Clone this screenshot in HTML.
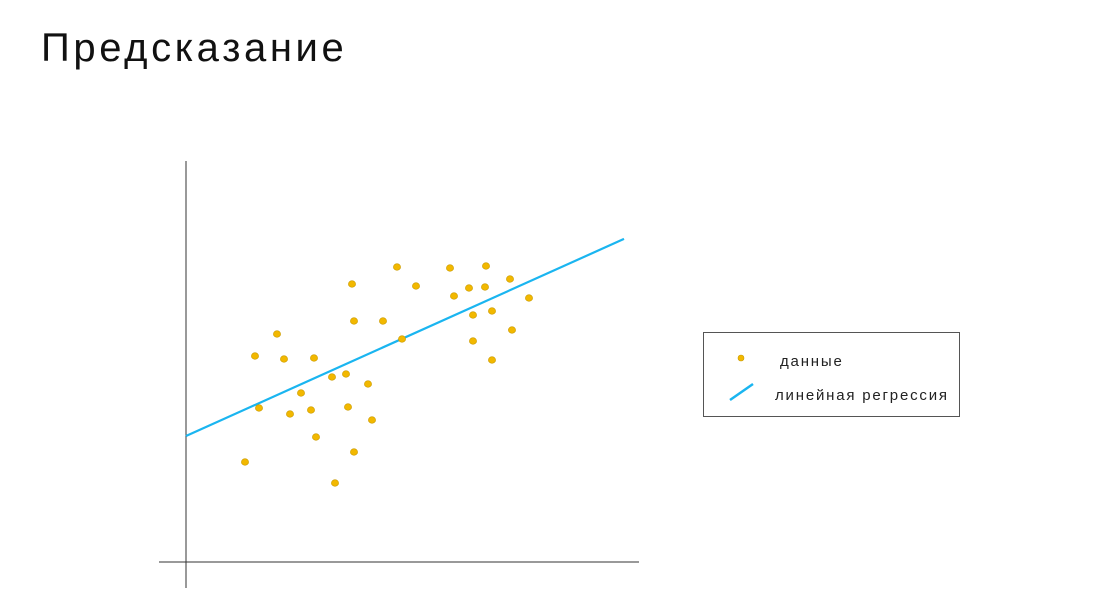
<!DOCTYPE html>
<html><head><meta charset="utf-8"><style>
body{margin:0;background:#fff;width:1099px;height:609px;overflow:hidden;font-family:"Liberation Sans","DejaVu Sans",sans-serif}
h1{position:absolute;left:41px;top:26px;margin:0;font-weight:400;font-size:40px;color:#111;letter-spacing:3.6px}
</style></head><body>
<h1>Предсказание</h1>
<svg id="chart" width="1099" height="609" style="position:absolute;left:0;top:0">
<line x1="186" y1="161" x2="186" y2="588" stroke="#333" stroke-width="1"/>
<line x1="159" y1="562" x2="639" y2="562" stroke="#333" stroke-width="1"/>
<g id="pts"></g>
<g>
<rect x="703.5" y="332.5" width="256" height="84" fill="#fff" stroke="#555"/>
<circle cx="741" cy="358" r="3" fill="#f2b800" stroke="#c99a00" stroke-width="0.6"/>
<text x="780" y="366" font-size="15" fill="#222" letter-spacing="1.8" font-family="Liberation Sans, sans-serif">данные</text>
<line x1="730" y1="400" x2="753" y2="384" stroke="#1ab5f0" stroke-width="2.5"/>
<text x="775" y="400" font-size="15" fill="#222" letter-spacing="1.8" font-family="Liberation Sans, sans-serif">линейная регрессия</text>
</g>
</svg>
<script>
const xs=[59,69,73,91,98,104,115,125,128,130,146,149,160,162,166,168,168,182,186,197,211,216,230,264,268,283,287,287,300,299,306,306,324,326,343];
const ys=[99,205,153,227,202,147,168,151,203,124,184,78,187,154,277,240,109,177,141,240,294,222,275,293,265,273,246,220,295,274,250,201,282,231,263];
const lineIntercept=125;
const lineSlope=0.45;
const lineX=[0,438];
const X=v=>186+v, Y=v=>561-v;
const ns="http://www.w3.org/2000/svg";
const g=document.getElementById('pts');
const ln=document.createElementNS(ns,'line');


ln.setAttribute('x1',X(lineX[0]));ln.setAttribute('y1',Y(lineIntercept+lineSlope*lineX[0]));
ln.setAttribute('x2',X(lineX[1]));ln.setAttribute('y2',Y(lineIntercept+lineSlope*lineX[1]));
ln.setAttribute('stroke','#1ab5f0');ln.setAttribute('stroke-width','2.2');
g.appendChild(ln);
xs.forEach((x,i)=>{
 const c=document.createElementNS(ns,'ellipse');
 
 
 c.setAttribute('cx',X(x));c.setAttribute('cy',Y(ys[i]));
 c.setAttribute('rx',3.6);c.setAttribute('ry',3.3);
 c.setAttribute('fill','#f2b800');c.setAttribute('stroke','#c99a00');c.setAttribute('stroke-width','0.6');
 g.appendChild(c);
});
</script>
</body></html>
